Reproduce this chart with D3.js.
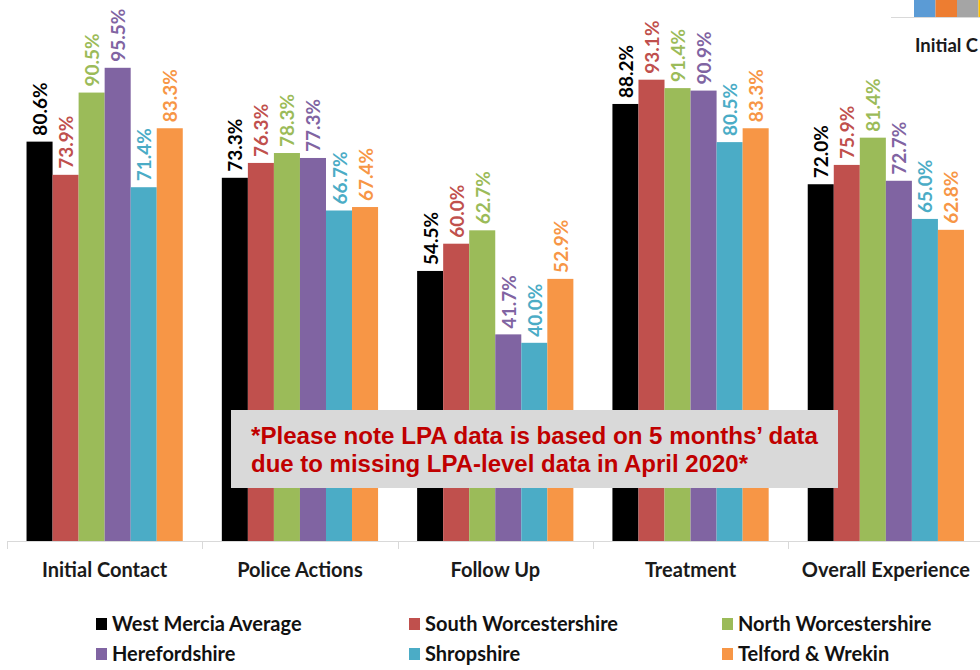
<!DOCTYPE html>
<meta charset="utf-8">
<style>
  body { margin: 0; background: #fff; }
  svg { font-family: Lato, "Open Sans", sans-serif; }
  .axis-line { stroke: #d9d9d9; stroke-width: 1; }
  .cat-label { font-weight: bold; font-size: 20px; fill: #1a1a1a; }
  .val-label { font-weight: bold; font-size: 19px; }
  .legend text { font-weight: bold; font-size: 20px; fill: #111; }
  .note text { font-family: "Liberation Sans", Arial, sans-serif; font-weight: bold; font-size: 23px; fill: #c00000; }
</style>
<body>
<script src="https://d3js.org/d3.v7.min.js"></script>
<script>

var categories = ["Initial Contact", "Police Actions", "Follow Up", "Treatment", "Overall Experience"];
var areas = ["West Mercia Average", "South Worcestershire", "North Worcestershire",
             "Herefordshire", "Shropshire", "Telford & Wrekin"];
var colours = ["#000000", "#c0504d", "#9bbb59", "#8064a2", "#4bacc6", "#f79646"];

var westMercia   = [80.6, 73.3, 54.5, 88.2, 72.0];
var southWorcs   = [73.9, 76.3, 60.0, 93.1, 75.9];
var northWorcs   = [90.5, 78.3, 62.7, 91.4, 81.4];
var herefordshire = [95.5, 77.3, 41.7, 90.9, 72.7];
var shropshire   = [71.4, 66.7, 40.0, 80.5, 65.0];
var telford      = [83.3, 67.4, 52.9, 83.3, 62.8];
var seriesValues = [westMercia, southWorcs, northWorcs, herefordshire, shropshire, telford];

var noteLines = ["*Please note LPA data is based on 5 months\u2019 data",
                 "due to missing LPA-level data in April 2020*"];

// stray legend from a neighbouring chart, cut off at the top right
var strayColours = ["#5b9bd5", "#ed7d31", "#a5a5a5", "#ffc000"];
var strayLabel = "Initial C";

var width = 980, height = 670;

var svg = d3.select("body").append("svg")
  .attr("width", width)
  .attr("height", height);

var x0 = d3.scaleBand()
  .domain(categories)
  .range([7, 7 + 5 * 195.3])
  .paddingInner(0.2)
  .paddingOuter(0.1);

var x1 = d3.scaleBand()
  .domain(d3.range(areas.length))
  .range([0, x0.bandwidth()]);

var y = d3.scaleLinear()
  .domain([0, 100])
  .range([541, 45.5]);

// neighbouring chart fragment
var stray = svg.append("g");
stray.append("line")
  .attr("class", "axis-line")
  .attr("x1", 891).attr("x2", width)
  .attr("y1", 17.5).attr("y2", 17.5);
stray.selectAll("rect")
  .data(strayColours)
  .enter().append("rect")
    .attr("x", function(d, i) { return 914 + i * 21.5; })
    .attr("y", 0)
    .attr("width", 21.5)
    .attr("height", 17)
    .attr("fill", function(d) { return d; });
stray.append("text")
  .attr("class", "cat-label")
  .attr("x", 915).attr("y", 52)
  .style("font-size", "18.5px")
  .text(strayLabel);

// bars
var rows = categories.map(function(c, ci) {
  return areas.map(function(a, ai) {
    return { cat: c, area: ai, value: seriesValues[ai][ci] };
  });
});

var groups = svg.selectAll("g.group")
  .data(rows)
  .enter().append("g")
    .attr("class", "group")
    .attr("transform", function(d, i) { return "translate(" + x0(categories[i]) + ",0)"; });

groups.selectAll("rect")
  .data(function(d) { return d; })
  .enter().append("rect")
    .attr("x", function(d) { return x1(d.area); })
    .attr("y", function(d) { return y(d.value); })
    .attr("width", x1.bandwidth())
    .attr("height", function(d) { return y(0) - y(d.value); })
    .attr("fill", function(d) { return colours[d.area]; });

groups.selectAll("text")
  .data(function(d) { return d; })
  .enter().append("text")
    .attr("class", "val-label")
    .attr("fill", function(d) { return colours[d.area]; })
    .attr("text-anchor", "start")
    .attr("transform", function(d) {
      return "translate(" + (x1(d.area) + x1.bandwidth() / 2 + 7.5) + "," + (y(d.value) - 6) + ")rotate(-90)";
    })
    .text(function(d) { return d.value.toFixed(1) + "%"; });

// x axis
svg.append("line")
  .attr("class", "axis-line")
  .attr("x1", 7).attr("x2", width)
  .attr("y1", 541.5).attr("y2", 541.5);

var ticks = categories.map(function(c) { return x0(c) - x0.step() * x0.paddingInner() / 2; });
svg.selectAll("line.tick")
  .data(ticks)
  .enter().append("line")
    .attr("class", "axis-line tick")
    .attr("x1", function(d) { return Math.round(d) + 0.5; })
    .attr("x2", function(d) { return Math.round(d) + 0.5; })
    .attr("y1", 541).attr("y2", 549);

svg.selectAll("text.cat-label.axis")
  .data(categories)
  .enter().append("text")
    .attr("class", "cat-label axis")
    .attr("x", function(d) { return x0(d) + x0.bandwidth() / 2; })
    .attr("y", 577)
    .attr("text-anchor", "middle")
    .text(function(d) { return d; });

// note box
var note = svg.append("g").attr("class", "note");
note.append("rect")
  .attr("x", 231).attr("y", 410)
  .attr("width", 607).attr("height", 78)
  .attr("fill", "#d9d9d9");
note.selectAll("text")
  .data(noteLines)
  .enter().append("text")
    .attr("x", 251)
    .attr("y", function(d, i) { return 444 + i * 28; })
    .attr("textLength", function(d, i) { return i === 0 ? 567 : 497; })
    .attr("lengthAdjust", "spacingAndGlyphs")
    .text(function(d) { return d; });

// legend
var legendX = [96, 409, 722];
var legend = svg.append("g").attr("class", "legend");
var items = legend.selectAll("g")
  .data(areas)
  .enter().append("g")
    .attr("transform", function(d, i) {
      return "translate(" + legendX[i % 3] + "," + (624 + Math.floor(i / 3) * 30) + ")";
    });
items.append("rect")
  .attr("x", 0).attr("y", -6)
  .attr("width", 11).attr("height", 12)
  .attr("fill", function(d, i) { return colours[i]; });
items.append("text")
  .attr("x", 16)
  .attr("y", 7)
  .text(function(d) { return d; });

</script>
</body>
</html>
